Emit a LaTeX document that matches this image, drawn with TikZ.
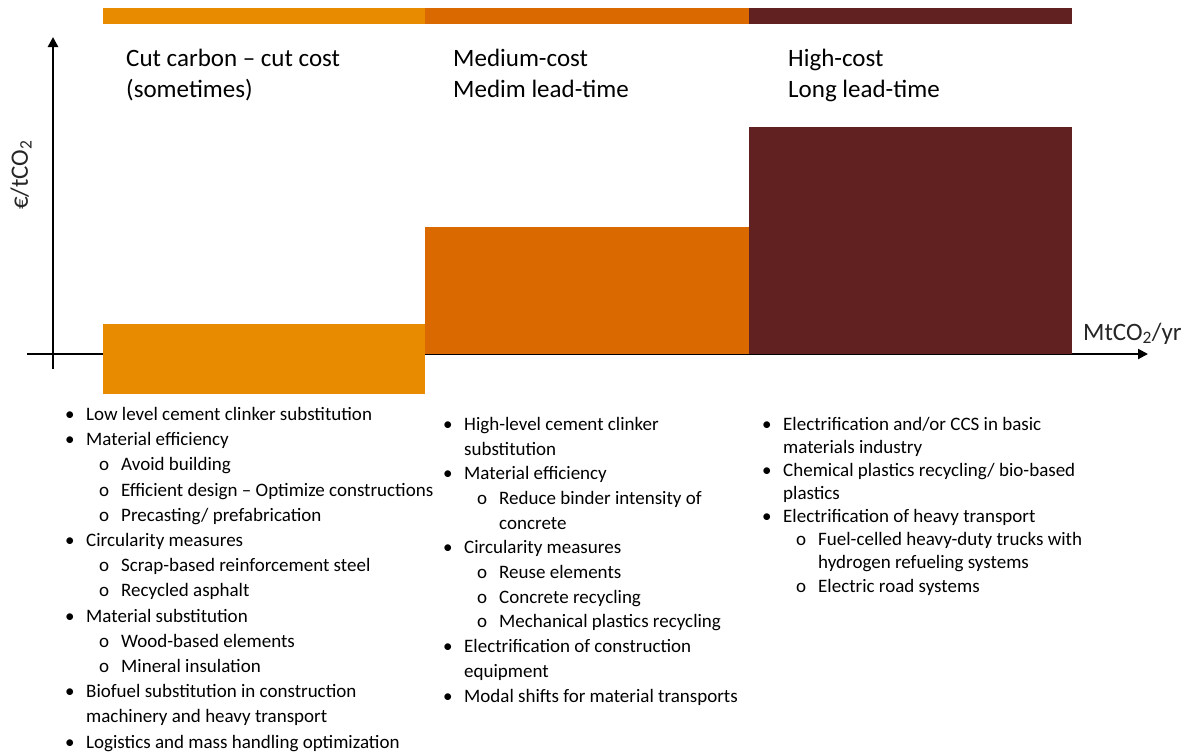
\documentclass[tikz,border=0pt]{standalone}
\usepackage{fontspec}
\setmainfont{Carlito}
\usetikzlibrary{positioning, arrows.meta}

\definecolor{lowcost}{RGB}{233,139,0}
\definecolor{midcost}{RGB}{218,106,0}
\definecolor{highcost}{RGB}{98,33,33}

\newcommand{\itm}[1]{\makebox[21pt][l]{\textbullet}#1}
\newcommand{\subitm}[1]{\hspace*{34pt}\makebox[22pt][l]{o}#1}
\newcommand{\cnt}[1]{\hspace*{21pt}#1}
\newcommand{\subcnt}[1]{\hspace*{56pt}#1}

\tikzset{
  heading/.style={anchor=base west, align=left, inner sep=0pt, font=\fontsize{25}{31}\selectfont},
  measures/.style={anchor=base west, align=left, inner sep=0pt},
  axis/.style={line width=2.5pt, -{Triangle[length=10pt,width=10pt]}},
  unit/.style={inner sep=0pt, text=black!85, font=\fontsize{25}{28}\selectfont},
}

\begin{document}
\begin{tikzpicture}[x=1pt, y=-1pt]
    \useasboundingbox (0,0) rectangle (1193,753);
    \coordinate (xs) at (27,354);
    \coordinate (xe) at (1148,354);
    \coordinate (ys) at (53,369);
    \coordinate (ye) at (53,37);
    \draw[axis, line width=2pt] (xs) -- (xe);
    \draw[axis] (ys) -- (ye);

    \fill[lowcost] (103,8) rectangle (425,24);
    \fill[midcost] (425,8) rectangle (749,24);
    \fill[highcost] (749,8) rectangle (1072,24);

    \fill[lowcost] (103,324) rectangle (425,394);
    \fill[midcost] (425,227) rectangle (749,354);
    \fill[highcost] (749,127) rectangle (1072,354);

    % nodes sit on the baseline of their last line
    \node[heading] (low) at (126,97) {Cut carbon – cut cost\\(sometimes)};
    \node[heading] (mid) at (453,97) {Medium-cost\\Medim lead-time};
    \node[heading] (high) at (788,97) {High-cost\\Long lead-time};

    \node[unit, rotate=90] (ylab) at (21,175) {€/tCO\textsubscript{2}};
    \node[unit, anchor=base west] (xlab) at (1083,340) {MtCO\textsubscript{2}/yr};

    \node[measures, font=\fontsize{19}{25.2}\selectfont] (lowlist) at (65,748) {%
      \itm{Low level cement clinker substitution}\\
      \itm{Material efficiency}\\
      \subitm{Avoid building}\\
      \subitm{Efficient design – Optimize constructions}\\
      \subitm{Precasting/ prefabrication}\\
      \itm{Circularity measures}\\
      \subitm{Scrap-based reinforcement steel}\\
      \subitm{Recycled asphalt}\\
      \itm{Material substitution}\\
      \subitm{Wood-based elements}\\
      \subitm{Mineral insulation}\\
      \itm{Biofuel substitution in construction}\\
      \cnt{machinery and heavy transport}\\
      \itm{Logistics and mass handling optimization}};

    \node[measures, font=\fontsize{19}{24.7}\selectfont] (midlist) at (443,702) {%
      \itm{High-level cement clinker}\\
      \cnt{substitution}\\
      \itm{Material efficiency}\\
      \subitm{Reduce binder intensity of}\\
      \subcnt{concrete}\\
      \itm{Circularity measures}\\
      \subitm{Reuse elements}\\
      \subitm{Concrete recycling}\\
      \subitm{Mechanical plastics recycling}\\
      \itm{Electrification of construction}\\
      \cnt{equipment}\\
      \itm{Modal shifts for material transports}};

    \node[measures, font=\fontsize{19}{23.1}\selectfont] (highlist) at (762,592) {%
      \itm{Electrification and/or CCS in basic}\\
      \cnt{materials industry}\\
      \itm{Chemical plastics recycling/ bio-based}\\
      \cnt{plastics}\\
      \itm{Electrification of heavy transport}\\
      \subitm{Fuel-celled heavy-duty trucks with}\\
      \subcnt{hydrogen refueling systems}\\
      \subitm{Electric road systems}};
\end{tikzpicture}
\end{document}
